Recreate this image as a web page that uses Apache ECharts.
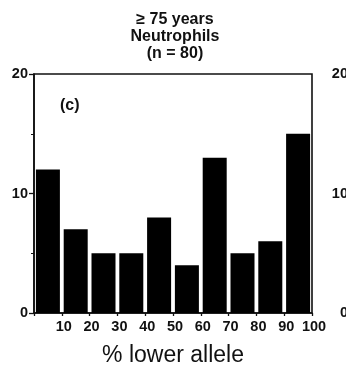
<!DOCTYPE html>
<html>
<head>
<meta charset="utf-8">
<script src="https://cdn.jsdelivr.net/npm/echarts@6/dist/echarts.min.js"></script>
<style>
  html, body { margin: 0; padding: 0; background: #fff; }
  #chart { width: 346px; height: 378px; }
</style>
</head>
<body>
<div id="chart"></div>
<script>
// Allele-ratio histogram, neutrophils of subjects aged 75 and over
const binMid = [5, 15, 25, 35, 45, 55, 65, 75, 85, 95];   // % lower allele, bin centres
const counts = [12, 7, 5, 5, 8, 4, 13, 5, 6, 15];          // number of subjects per bin
const xTicks = [10, 20, 30, 40, 50, 60, 70, 80, 90, 100];
const yTicks = [0, 10, 20];
const titleLines = ['\u2265 75 years', 'Neutrophils', '(n = 80)'];
const panelTag = '(c)';
const xName = '% lower allele';

const FONT = "'Liberation Sans', Arial, Helvetica, sans-serif";
const INK = '#111';

const chart = echarts.init(document.getElementById('chart'), null, { renderer: 'canvas' });

const yAxisBase = {
  type: 'value',
  min: yTicks[0],
  max: yTicks[yTicks.length - 1],
  interval: 10,
  axisLine: { show: true, lineStyle: { color: INK, width: 1.6 } },
  axisTick: { show: true, inside: false, length: 5, lineStyle: { color: INK, width: 1.3 } },
  minorTick: { show: true, splitNumber: 2, length: 3, lineStyle: { color: INK, width: 1 } },
  splitLine: { show: false },
  axisLabel: { color: INK, fontFamily: FONT, fontWeight: 'bold', fontSize: 14.5, margin: 6 }
};

chart.setOption({
  animation: false,
  backgroundColor: '#fff',
  title: [
    {
      text: titleLines.join('\n'),
      left: 170,
      top: 6,
      textAlign: 'center',
      textStyle: { color: INK, fontFamily: FONT, fontWeight: 'bold', fontSize: 16, lineHeight: 17 }
    },
    {
      text: panelTag,
      left: 55,
      top: 93,
      textStyle: { color: INK, fontFamily: FONT, fontWeight: 'bold', fontSize: 16 }
    }
  ],
  grid: [
    { left: 34, right: 34, top: 74, bottom: 65, show: true, borderColor: INK, borderWidth: 1.6, containLabel: false },
    // neighbouring panel's axis, sitting just past the right edge
    { left: 354, width: 100, top: 74, bottom: 65, containLabel: false }
  ],
  xAxis: [
    {
      type: 'value',
      gridIndex: 0,
      min: 0,
      max: xTicks[xTicks.length - 1],
      interval: 10,
      name: xName,
      nameLocation: 'middle',
      nameGap: 31,
      nameTextStyle: { color: INK, fontFamily: FONT, fontSize: 23 },
      axisLine: { show: true, lineStyle: { color: INK, width: 1.6 } },
      axisTick: { show: true, inside: false, length: 3, lineStyle: { color: INK, width: 1.3 } },
      splitLine: { show: false },
      axisLabel: {
        color: INK, fontFamily: FONT, fontWeight: 'bold', fontSize: 14.5, margin: 6,
        padding: [0, 0, 0, 4],
        formatter: v => (xTicks.indexOf(v) >= 0 ? String(v) : '')
      }
    },
    { type: 'value', gridIndex: 1, min: 0, max: 100, show: false }
  ],
  yAxis: [
    Object.assign({ gridIndex: 0 }, yAxisBase),
    Object.assign({ gridIndex: 1 }, yAxisBase, { minorTick: { show: false } })
  ],
  series: [
    {
      type: 'bar',
      xAxisIndex: 0,
      yAxisIndex: 0,
      data: binMid.map((x, i) => [x, counts[i]]),
      barWidth: 24,
      itemStyle: { color: '#000' },
      emphasis: { disabled: true }
    }
  ]
});
</script>
</body>
</html>
